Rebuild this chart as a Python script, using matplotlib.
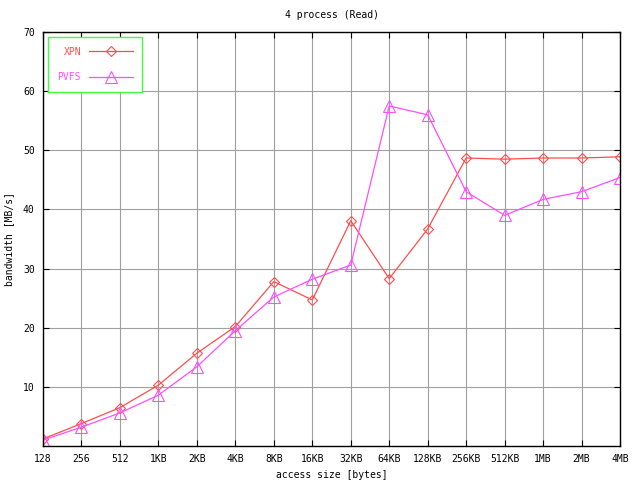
import numpy as np
import matplotlib
matplotlib.use('Agg')
import matplotlib.pyplot as plt

# данные
sizes = ['128', '256', '512', '1KB', '2KB', '4KB', '8KB', '16KB', '32KB', '64KB',
         '128KB', '256KB', '512KB', '1MB', '2MB', '4MB']
xpn = [1.2, 3.8, 6.5, 10.3, 15.7, 20.2, 27.8, 24.7, 38.1, 28.3,
       36.7, 48.7, 48.5, 48.7, 48.7, 48.9]
pvfs = [1.0, 3.2, 5.6, 8.6, 13.4, 19.5, 25.2, 28.2, 30.6, 57.5,
        56.0, 43.0, 39.0, 41.7, 43.0, 45.4]
yticks = [10, 20, 30, 40, 50, 60, 70]

plt.rcParams['font.family'] = 'DejaVu Sans Mono'
plt.rcParams['font.size'] = 7

fig = plt.figure(figsize=(6.4, 4.8), dpi=100)
ax = fig.add_axes([0.0672, 0.0708, 0.9016, 0.8625])

x = np.arange(len(sizes))
ax.plot(x, xpn, color='#ff4d4d', lw=0.9, marker='D', markersize=5.5,
        markerfacecolor='none', markeredgewidth=0.8, label='XPN')
ax.plot(x, pvfs, color='#ff4dff', lw=0.9, marker='^', markersize=8,
        markerfacecolor='none', markeredgewidth=0.8, label='PVFS')

ax.set_xlim(0, len(sizes) - 1)
ax.set_ylim(0, 70)
ax.set_xticks(x)
ax.set_xticklabels(sizes)
ax.set_yticks(yticks)
ax.grid(True, color='#a0a0a0', lw=0.8)
ax.set_axisbelow(True)
ax.tick_params(direction='in', top=True, right=True, length=4, width=0.8, pad=6)
for s in ax.spines.values():
    s.set_linewidth(1.0)

ax.set_title('4 process (Read)', fontsize=7, pad=10)
ax.set_xlabel('access size [bytes]', labelpad=4)
ax.set_ylabel('bandwidth [MB/s]', labelpad=6)

leg = ax.legend(loc='upper left', markerfirst=False, fancybox=False,
                edgecolor='#40ff40', framealpha=1, borderpad=1.0,
                labelspacing=1.6, handlelength=4.5, borderaxespad=0.5)
leg.get_frame().set_linewidth(1.0)
for t, c in zip(leg.get_texts(), ['#ff4d4d', '#ff4dff']):
    t.set_color(c)

plt.savefig('out.png', dpi=100)
